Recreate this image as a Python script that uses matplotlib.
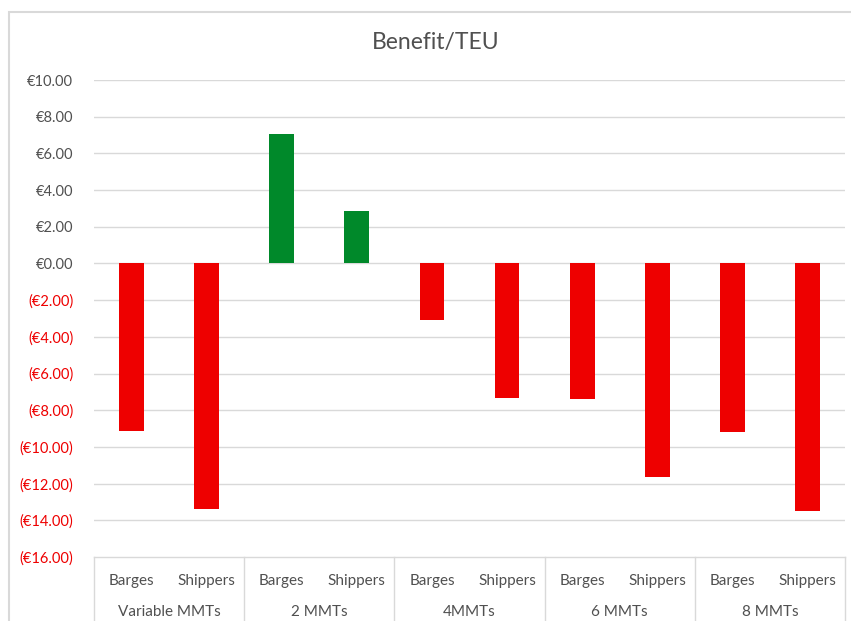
import matplotlib.pyplot as plt
import matplotlib.transforms as mtransforms
from matplotlib.patches import Rectangle

plt.rcParams['font.family'] = ['Lato', 'DejaVu Sans']

groups = ['Variable MMTs', '2 MMTs', '4MMTs', '6 MMTs', '8 MMTs']
subs = ['Barges', 'Shippers']
benefit = [-9.15, -13.4, 7.03, 2.88, -3.1, -7.36, -7.41, -11.66, -9.21, -13.5]
yticks = [10, 8, 6, 4, 2, 0, -2, -4, -6, -8, -10, -12, -14, -16]

red = '#EE0000'
green = '#00892A'
grid = '#D9D9D9'
textc = '#505050'

fig = plt.figure(figsize=(8.51, 6.21), dpi=100)
ax = fig.add_axes([94/851, 1 - 557/621, (845 - 94)/851, (557 - 80)/621])

x = list(range(len(benefit)))
colors = [green if v > 0 else red for v in benefit]
ax.bar(x, benefit, width=0.33, color=colors, zorder=3)

ax.set_xlim(-0.5, len(benefit) - 0.5)
ax.set_ylim(-16, 10)
ax.set_yticks(yticks)
for t in yticks[:-1]:
    ax.axhline(t, color=grid, lw=1, zorder=1)

def money(v):
    if v < 0:
        return '(€%.2f)' % abs(v)
    return '€%.2f' % v

ax.set_yticklabels([money(v) for v in yticks])
for lab, v in zip(ax.get_yticklabels(), yticks):
    lab.set_color(red if v < 0 else textc)
ax.tick_params(axis='y', length=0, pad=15, labelsize=10.5)
ax.set_xticks([])

for s in ['top', 'right', 'left']:
    ax.spines[s].set_visible(False)
ax.spines['bottom'].set_color(grid)
ax.spines['bottom'].set_linewidth(1)

trans = mtransforms.blended_transform_factory(ax.transData, ax.transAxes)
for b in [-0.5, 1.5, 3.5, 5.5, 7.5, 9.5]:
    ax.plot([b, b], [0, -0.2], color=grid, lw=1, transform=trans, clip_on=False)

for i in x:
    ax.text(i, -0.05, subs[i % 2], transform=trans, ha='center', va='center',
            fontsize=11, color=textc)
for g, name in enumerate(groups):
    ax.text(2 * g + 0.5, -0.115, name, transform=trans, ha='center', va='center',
            fontsize=11, color=textc)

fig.text(436/851, 1 - 43/621, 'Benefit/TEU', ha='center', va='center',
         fontsize=16.5, color=textc)

fig.patches.append(Rectangle((9/851, -0.05), 1.1, 1.05 - 12/621, transform=fig.transFigure,
                             fill=False, edgecolor=grid, lw=1.5))

fig.savefig('out.png', dpi=100)
